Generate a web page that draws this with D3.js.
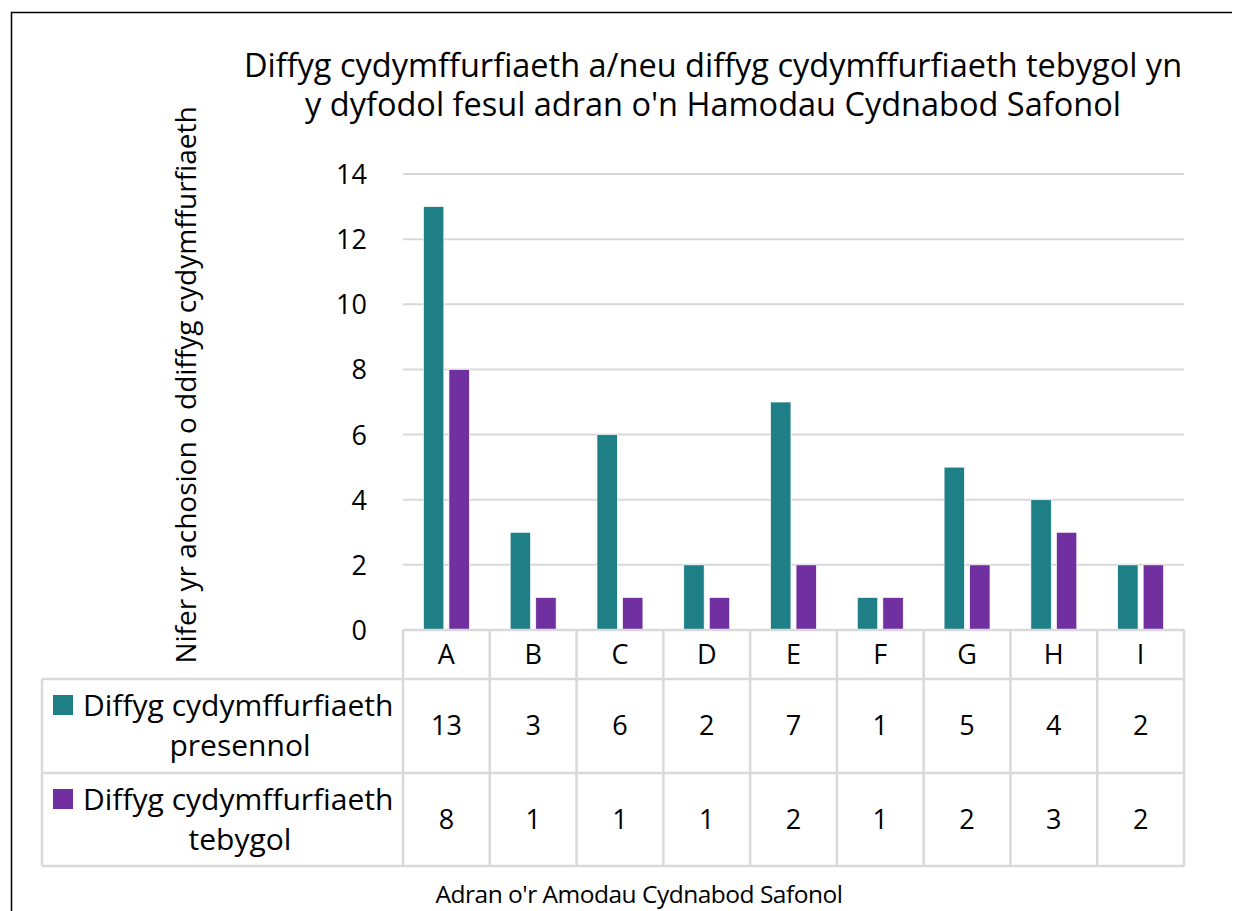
<!DOCTYPE html>
<html>
<head>
<meta charset="utf-8">
<script src="https://cdn.jsdelivr.net/npm/d3@7"></script>
<style>
  body { margin: 0; background: #fff; }
  text { font-family: "Open Sans", "Noto Sans", sans-serif; fill: #000; }
</style>
</head>
<body>
<div class="chart"></div>
<script>
var width = 1233;
var height = 911;

var categories = ["A", "B", "C", "D", "E", "F", "G", "H", "I"];
var seriesNames = ["Diffyg cydymffurfiaeth presennol", "Diffyg cydymffurfiaeth tebygol"];
var presennol = [13, 3, 6, 2, 7, 1, 5, 4, 2];
var tebygol = [8, 1, 1, 1, 2, 1, 2, 3, 2];
var yTicks = [0, 2, 4, 6, 8, 10, 12, 14];
var colors = ["#1f7f87", "#7030a0"];

var titleLines = ["Diffyg cydymffurfiaeth a/neu diffyg cydymffurfiaeth tebygol yn",
                  "y dyfodol fesul adran o'n Hamodau Cydnabod Safonol"];
var yTitle = "Nifer yr achosion o ddiffyg cydymffurfiaeth";
var xTitle = "Adran o'r Amodau Cydnabod Safonol";

// plot box (named so they don't clash with window.top etc.)
var plotL = 403, plotR = 1184, plotT = 174, plotB = 630;
var tableLeft = 42, rowH = [49, 94, 93];

var svg = d3.select(".chart").append("svg")
    .attr("width", width)
    .attr("height", height);

// outer frame
svg.append("path")
    .attr("d", "M11.5," + height + "V12.5H" + (width - 1))
    .attr("fill", "none")
    .attr("stroke", "#000")
    .attr("stroke-width", 1.5);

// title
svg.append("g").selectAll("text")
    .data(titleLines)
  .enter().append("text")
    .attr("x", 713)
    .attr("y", function (d, i) { return 77 + i * 39; })
    .attr("text-anchor", "middle")
    .style("font-size", "32.5px")
    .text(function (d) { return d; });

var x = d3.scaleBand().domain(categories).range([plotL, plotR]);
var x1 = d3.scaleBand().domain([0, 1]).range([0, x.bandwidth()])
    .paddingInner(0.2).paddingOuter(0.8);
var y = d3.scaleLinear().domain([0, 14]).range([plotB, plotT]);

// gridlines
svg.append("g").selectAll("line")
    .data(yTicks.slice(1))
  .enter().append("line")
    .attr("x1", plotL).attr("x2", plotR)
    .attr("y1", function (d) { return y(d); })
    .attr("y2", function (d) { return y(d); })
    .attr("stroke", "#d9d9d9")
    .attr("stroke-width", 2);

// y axis labels
var yAxis = svg.append("g")
    .attr("transform", "translate(" + plotL + ",0)")
    .call(d3.axisLeft(y).tickValues(yTicks).tickSize(0).tickPadding(36));
yAxis.select(".domain").remove();
yAxis.selectAll("text")
    .style("font-family", "'Open Sans', 'Noto Sans', sans-serif")
    .style("font-size", "27px")
    .attr("fill", "#000")
    .attr("dy", "0.35em");

// bars
var rows = categories.map(function (c, i) { return { cat: c, vals: [presennol[i], tebygol[i]] }; });
var groups = svg.append("g").selectAll("g")
    .data(rows)
  .enter().append("g")
    .attr("transform", function (d) { return "translate(" + x(d.cat) + ",0)"; });

groups.selectAll("rect")
    .data(function (d) { return d.vals; })
  .enter().append("rect")
    .attr("x", function (d, i) { return x1(i); })
    .attr("width", x1.bandwidth())
    .attr("y", function (d) { return y(d); })
    .attr("height", function (d) { return plotB - y(d); })
    .attr("fill", function (d, i) { return colors[i]; })
    .attr("stroke", "#fff")
    .attr("stroke-width", 0.7);

// data table
var tbl = svg.append("g");
var r0 = plotB, r1 = r0 + rowH[0], r2 = r1 + rowH[1], r3 = r2 + rowH[2];
var lineColor = "#d9d9d9";

function hline(xa, xb, yy) {
  tbl.append("line").attr("x1", xa).attr("x2", xb).attr("y1", yy).attr("y2", yy)
     .attr("stroke", lineColor).attr("stroke-width", 2.5);
}
function vline(xx, ya, yb) {
  tbl.append("line").attr("x1", xx).attr("x2", xx).attr("y1", ya).attr("y2", yb)
     .attr("stroke", lineColor).attr("stroke-width", 2.5);
}
hline(plotL, plotR, r0);
hline(tableLeft, plotR, r1);
hline(tableLeft, plotR, r2);
hline(tableLeft, plotR, r3);
vline(tableLeft, r1, r3);
categories.forEach(function (c) { vline(x(c), r0, r3); });
vline(plotR, r0, r3);

// category labels
tbl.selectAll("text.cat")
    .data(categories)
  .enter().append("text")
    .attr("class", "cat")
    .attr("x", function (d) { return x(d) + x.bandwidth() / 2; })
    .attr("y", (r0 + r1) / 2)
    .attr("dy", "0.35em")
    .attr("text-anchor", "middle")
    .style("font-size", "27px")
    .text(function (d) { return d; });

// value cells + legend cells
[presennol, tebygol].forEach(function (vals, r) {
  var top0 = r === 0 ? r1 : r2;
  var bot0 = r === 0 ? r2 : r3;
  tbl.selectAll("text.v" + r)
      .data(vals)
    .enter().append("text")
      .attr("class", "v" + r)
      .attr("x", function (d, i) { return x(categories[i]) + x.bandwidth() / 2; })
      .attr("y", (top0 + bot0) / 2)
      .attr("dy", "0.35em")
      .attr("text-anchor", "middle")
      .style("font-size", "27px")
      .text(function (d) { return d; });

  tbl.append("rect")
      .attr("x", 53).attr("y", top0 + 16)
      .attr("width", 20).attr("height", 20)
      .attr("fill", colors[r]);
  var words = seriesNames[r].split(" ");
  tbl.append("text")
      .attr("x", 83).attr("y", top0 + 37)
      .style("font-size", "30px")
      .text(words[0] + " " + words[1]);
  tbl.append("text")
      .attr("x", 240).attr("y", top0 + 77)
      .attr("text-anchor", "middle")
      .style("font-size", "30px")
      .text(words[2]);
});

// axis titles
svg.append("text")
    .attr("transform", "translate(196,385) rotate(-90)")
    .attr("text-anchor", "middle")
    .style("font-size", "28px")
    .text(yTitle);

svg.append("text")
    .attr("x", 639).attr("y", 903)
    .attr("text-anchor", "middle")
    .style("font-size", "24.5px")
    .style("letter-spacing", "-0.5px")
    .text(xTitle);
</script>
</body>
</html>
